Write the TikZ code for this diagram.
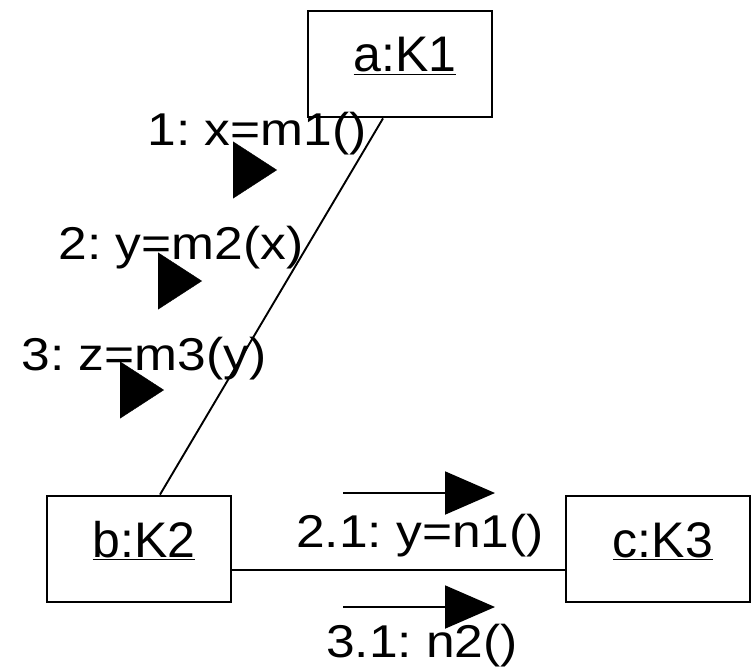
\documentclass[tikz,border=0pt]{standalone}
\usepackage{fontspec}
\setmainfont{Liberation Sans}
\newfontfamily\msgfont[FakeStretch=1.12]{Liberation Sans}
\frenchspacing
\usetikzlibrary{arrows.meta}

\begin{document}
\begin{tikzpicture}[
  x=1pt, y=-1pt,
  node distance=485pt,
  obj/.style={draw, line width=2.8pt, minimum width=184pt, minimum height=106pt, inner sep=0pt,
    text height=37pt, text depth=21pt, font=\fontsize{50}{60}\selectfont},
  link/.style={line width=1.9pt},
  msg/.style={anchor=base, inner sep=0pt, font=\msgfont\fontsize{46}{55}\selectfont},
  flow/.style={line width=1.9pt, -{Triangle[length=50pt, width=43pt]}},
  flowtip/.style={-{Triangle[length=44pt, width=57pt]}}
]
\useasboundingbox (0,0) rectangle (751,668);
% objects
\node[obj] (a) at (400,64) {\hspace*{10pt}\underline{a:K1}};
\node[obj] (b) [below of=a, xshift=-261pt] {\hspace*{10pt}\underline{b:K2}};
\node[obj] (c) [node distance=519pt, right of=b] {\hspace*{10pt}\underline{c:K3}};
% links
\draw[link] ([xshift=-17pt]a.south) -- ([xshift=21pt]b.north);
\draw[link] ([yshift=-21pt]b.east) -- ([yshift=-21pt]c.west);
% messages
\node[msg] (m1) at (257,146) {1: x=m1()};
\node[msg] (m2) at (181,259) {2: y=m2(x)};
\node[msg] (m3) at (144,370) {3: z=m3(y)};
\node[msg] (m21) at (420,547) {2.1: y=n1()};
\node[msg] (m31) at (422,657) {3.1: n2()};
\coordinate (t1) at (233,170);
\coordinate (t2) at (158,281);
\coordinate (t3) at (120,390);
\draw[flowtip] (t1) -- ++(44,0);
\draw[flowtip] (t2) -- ++(44,0);
\draw[flowtip] (t3) -- ++(44,0);
\coordinate (f21) at (343,493);
\coordinate (f31) at (343,607);
\draw[flow] (f21) -- ++(152,0);
\draw[flow] (f31) -- ++(152,0);
\end{tikzpicture}
\end{document}
